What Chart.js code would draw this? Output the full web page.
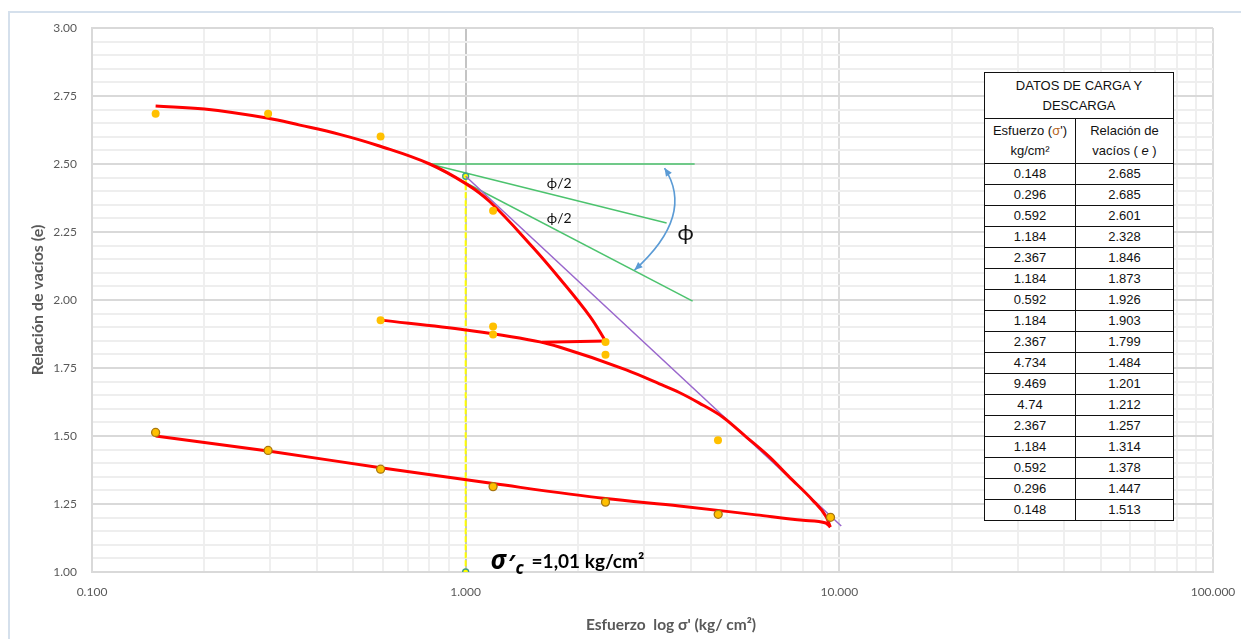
<!DOCTYPE html>
<html lang="es">
<head>
<meta charset="utf-8">
<title>Curva de compresibilidad e - log σ'</title>
<script src="https://cdn.jsdelivr.net/npm/chart.js@4.4.1/dist/chart.umd.min.js"></script>
<style>
  html, body { margin: 0; padding: 0; background: #fff; }
  #marco { position: relative; width: 1241px; height: 639px; overflow: hidden; background: #fff; }
  #borde { position: absolute; left: 8px; top: 11px; width: 1300px; height: 700px;
           border: 2px solid #d5e0ec; box-sizing: border-box; }
  #grafico { position: absolute; left: 0; top: 0; }
  #tabla { position: absolute; left: 984px; top: 72px; border-collapse: collapse; table-layout: fixed;
           font-family: "Liberation Sans", Arial, sans-serif; font-size: 13px; color: #111; background: #fff; }
  #tabla td { border: 1px solid #111; text-align: center; padding: 0; line-height: 20px; overflow: hidden; white-space: nowrap; }
  #tabla .sig { color: #b5651d; }
</style>
</head>
<body>
<div id="marco">
  <div id="borde"></div>
  <canvas id="grafico" width="1241" height="639"></canvas>
  <table id="tabla">
    <colgroup><col style="width:91px"><col style="width:98px"></colgroup>
    <tbody id="cuerpo">
      <tr style="height:46px"><td colspan="2">DATOS DE CARGA Y<br>DESCARGA</td></tr>
      <tr style="height:45px"><td>Esfuerzo (<span class="sig">σ</span>')<br>kg/cm²</td><td>Relación de<br>vacíos ( <i>e</i> )</td></tr>
    </tbody>
  </table>
</div>
<script>
// Ensayo de consolidación: datos de carga y descarga
const esfuerzo       = [0.148, 0.296, 0.592, 1.184, 2.367, 1.184, 0.592, 1.184, 2.367, 4.734, 9.469, 4.74, 2.367, 1.184, 0.592, 0.296, 0.148];
const relacionVacios = [2.685, 2.685, 2.601, 2.328, 1.846, 1.873, 1.926, 1.903, 1.799, 1.484, 1.201, 1.212, 1.257, 1.314, 1.378, 1.447, 1.513];
const inicioDescarga = 10;   // índice del primer punto de la descarga final

// Curvas suavizadas trazadas sobre los puntos
const curvaCargaX = [0.148, 0.2, 0.294, 0.36, 0.46, 0.582, 0.801, 1.006, 1.159, 1.51, 1.78, 2.15, 2.367];
const curvaCargaY = [2.713, 2.702, 2.669, 2.643, 2.609, 2.568, 2.500, 2.426, 2.362, 2.195, 2.081, 1.940, 1.849];
const colaCargaX  = [2.367, 1.6];
const colaCargaY  = [1.849, 1.845];
const curvaRecargaX = [0.592, 1.0, 1.58, 1.78, 2.69, 3.30, 3.73, 4.22, 4.87, 5.64, 6.50, 7.35, 8.47, 9.23, 9.46];
const curvaRecargaY = [1.926, 1.890, 1.846, 1.827, 1.743, 1.692, 1.660, 1.621, 1.570, 1.496, 1.423, 1.349, 1.265, 1.202, 1.165];
const curvaDescargaX = [9.46, 9.2, 8.0, 6.0, 3.73, 2.367, 1.184, 0.592, 0.296, 0.148];
const curvaDescargaY = [1.165, 1.180, 1.190, 1.210, 1.243, 1.270, 1.325, 1.383, 1.445, 1.500];

// Construcción de Casagrande
const tangenteVirgenX = [1.0, 10.12];
const tangenteVirgenY = [2.455, 1.169];
const esfuerzoPrecons = [1.0, 1.0];
const esfuerzoPreconsY = [2.455, 1.0];
const origenX = 0.801, origenY = 2.50;
const horizontalFin = [4.10, 2.500];
const bisectrizFin  = [3.45, 2.283];
const tangenteFin   = [4.05, 1.996];
const arcoX = [3.405, 4.12, 2.83];
const arcoY = [2.485, 2.312, 2.110];
const rotulosTexto = ['ϕ/2', 'ϕ/2', 'ϕ'];
const rotulosX = [1.78, 1.78, 3.88];
const rotulosY = [2.430, 2.298, 2.246];
const rotulosTam = [14, 14, 22];

// Ejes
const decadasX = [0.1, 1, 10, 100];
const etiquetasX = ['0.100', '1.000', '10.000', '100.000'];
const etiquetasY = ['1.00', '1.25', '1.50', '1.75', '2.00', '2.25', '2.50', '2.75', '3.00'];

// Tabla de datos
const cuerpo = document.getElementById('cuerpo');
esfuerzo.forEach((s, i) => {
  const tr = document.createElement('tr');
  tr.style.height = '20.5px';
  tr.innerHTML = '<td>' + String(s) + '</td><td>' + String(relacionVacios[i]) + '</td>';
  cuerpo.appendChild(tr);
});

const pares = (xs, ys) => xs.map((v, i) => ({ x: v, y: ys[i] }));
const segmento = (fin) => [{ x: origenX, y: origenY }, { x: fin[0], y: fin[1] }];

const marcasX = [];
decadasX.forEach((d, k) => {
  marcasX.push(d);
  if (k < decadasX.length - 1) for (let m = 2; m <= 9; m++) marcasX.push(+(d * m).toPrecision(6));
});
const esDecada = v => decadasX.some(d => Math.abs(d - v) < 1e-9);
const esMayorY = v => Math.abs(v * 4 - Math.round(v * 4)) < 1e-6;

const FUENTE = '"Lato", "Noto Sans", sans-serif';

const anotaciones = {
  id: 'anotaciones',
  afterDatasetsDraw(chart) {
    const { ctx, scales: { x, y } } = chart;
    const px = v => x.getPixelForValue(v), py = v => y.getPixelForValue(v);
    ctx.save();
    // arco del ángulo ϕ con flechas en ambos extremos
    const p = arcoX.map((v, i) => [px(v), py(arcoY[i])]);
    ctx.strokeStyle = '#5B9BD5';
    ctx.fillStyle = '#5B9BD5';
    ctx.lineWidth = 1.6;
    ctx.beginPath();
    ctx.moveTo(p[0][0], p[0][1]);
    ctx.quadraticCurveTo(p[1][0], p[1][1], p[2][0], p[2][1]);
    ctx.stroke();
    const flecha = (tip, ctrl) => {
      const dx = tip[0] - ctrl[0], dy = tip[1] - ctrl[1];
      const L = Math.hypot(dx, dy), ux = dx / L, uy = dy / L;
      const len = 8, half = 3.5;
      ctx.beginPath();
      ctx.moveTo(tip[0], tip[1]);
      ctx.lineTo(tip[0] - ux * len - uy * half, tip[1] - uy * len + ux * half);
      ctx.lineTo(tip[0] - ux * len + uy * half, tip[1] - uy * len - ux * half);
      ctx.closePath();
      ctx.fill();
    };
    flecha(p[0], p[1]);
    flecha(p[2], p[1]);

    // rótulos de los ángulos
    ctx.fillStyle = '#111';
    ctx.textAlign = 'center';
    ctx.textBaseline = 'middle';
    rotulosTexto.forEach((t, i) => {
      ctx.font = rotulosTam[i] + 'px ' + FUENTE;
      ctx.fillText(t, px(rotulosX[i]), py(rotulosY[i]));
    });

    // esfuerzo de preconsolidación
    const bx = px(1.166), by = py(1.011);
    ctx.textAlign = 'left';
    ctx.textBaseline = 'alphabetic';
    ctx.fillStyle = '#000';
    ctx.font = 'italic bold 26px "Noto Sans", sans-serif';
    ctx.fillText('σ', bx, by);
    ctx.font = 'italic bold 24px "Noto Sans", sans-serif';
    ctx.fillText('′', bx + 17, by + 3);
    ctx.font = 'italic bold 17px "Noto Sans", sans-serif';
    ctx.fillText('c', bx + 25, by + 5);
    ctx.font = 'bold 19px ' + FUENTE;
    ctx.fillText('=1,01 kg/cm²', bx + 41, by - 1);

    // título del eje horizontal
    ctx.font = 'bold 15.5px ' + FUENTE;
    ctx.fillStyle = '#595959';
    ctx.textAlign = 'center';
    ctx.textBaseline = 'middle';
    ctx.fillText("Esfuerzo  log σ' (kg/ cm²)", 671, 625);
    ctx.restore();
  }
};

const lineaRoja = (datos, suave) => ({
  data: datos, showLine: true, borderColor: '#FF0000', borderWidth: 3,
  pointRadius: 0, fill: false,
  tension: 0.4, cubicInterpolationMode: suave ? 'default' : 'monotone'
});
const lineaVerde = (datos) => ({
  data: datos, showLine: true, borderColor: '#4CC36E', borderWidth: 1.5, pointRadius: 0, tension: 0
});

new Chart(document.getElementById('grafico'), {
  type: 'scatter',
  data: {
    datasets: [
      {
        data: pares(esfuerzo, relacionVacios),
        pointRadius: 4,
        pointBackgroundColor: '#FFC000',
        pointBorderColor: esfuerzo.map((_, i) => i >= inicioDescarga ? '#A8760E' : '#FFC000'),
        pointBorderWidth: esfuerzo.map((_, i) => i >= inicioDescarga ? 1.3 : 0),
        showLine: false
      },
      lineaRoja(pares(curvaCargaX, curvaCargaY), true),
      { data: pares(colaCargaX, colaCargaY), showLine: true, borderColor: '#FF0000', borderWidth: 3, pointRadius: 0 },
      lineaRoja(pares(curvaRecargaX, curvaRecargaY), false),
      lineaRoja(pares(curvaDescargaX, curvaDescargaY), false),
      { data: pares(tangenteVirgenX, tangenteVirgenY), showLine: true, borderColor: '#9966CC', borderWidth: 1.5, pointRadius: 0 },
      {
        data: pares(esfuerzoPrecons, esfuerzoPreconsY), showLine: true, borderColor: '#FFFF00', borderWidth: 2,
        borderDash: [6, 2], pointRadius: 3, pointBackgroundColor: '#FFFF00', pointBorderColor: '#3E9E8C', pointBorderWidth: 1.3
      },
      lineaVerde(segmento(horizontalFin)),
      lineaVerde(segmento(bisectrizFin)),
      lineaVerde(segmento(tangenteFin))
    ]
  },
  options: {
    responsive: false,
    animation: false,
    devicePixelRatio: 1,
    layout: { padding: { left: 0, top: 28, right: 28, bottom: 0 } },
    plugins: { legend: { display: false }, tooltip: { enabled: false } },
    scales: {
      x: {
        type: 'logarithmic',
        min: 0.1, max: 100,
        afterBuildTicks: s => { s.ticks = marcasX.map(v => ({ value: v })); },
        afterFit: s => { s.height = 67; s.paddingLeft = 0; s.paddingRight = 0; },
        ticks: {
          autoSkip: false, maxRotation: 0, minRotation: 0, padding: 13,
          color: '#595959', font: { family: FUENTE, size: 12 },
          callback: v => { const k = decadasX.findIndex(d => Math.abs(d - v) < 1e-9); return k >= 0 ? etiquetasX[k] : ''; }
        },
        grid: {
          drawTicks: false,
          color: c => { const v = c.tick.value; if (Math.abs(v - 1) < 1e-9) return '#c4c4c4'; return esDecada(v) ? '#dcdcdc' : '#efefef'; },
          lineWidth: 2
        },
        border: { color: '#d9d9d9', width: 2 }
      },
      y: {
        type: 'linear',
        min: 1, max: 3,
        afterFit: s => { s.width = 92; s.paddingTop = 0; s.paddingBottom = 0; },
        ticks: {
          stepSize: 0.05, autoSkip: false, padding: 15,
          color: '#595959', font: { family: FUENTE, size: 12 },
          callback: v => esMayorY(v) ? etiquetasY[Math.round((v - 1) * 4)] : ''
        },
        grid: {
          drawTicks: false,
          color: c => esMayorY(c.tick.value) ? '#d9d9d9' : '#eeeeee',
          lineWidth: 2
        },
        border: { color: '#d9d9d9', width: 2 },
        title: {
          display: true, text: 'Relación de vacíos (e)', color: '#595959',
          font: { family: FUENTE, size: 16, weight: 'bold' },
          padding: { top: 28, bottom: 0 }
        }
      }
    }
  },
  plugins: [anotaciones]
});
</script>
</body>
</html>
